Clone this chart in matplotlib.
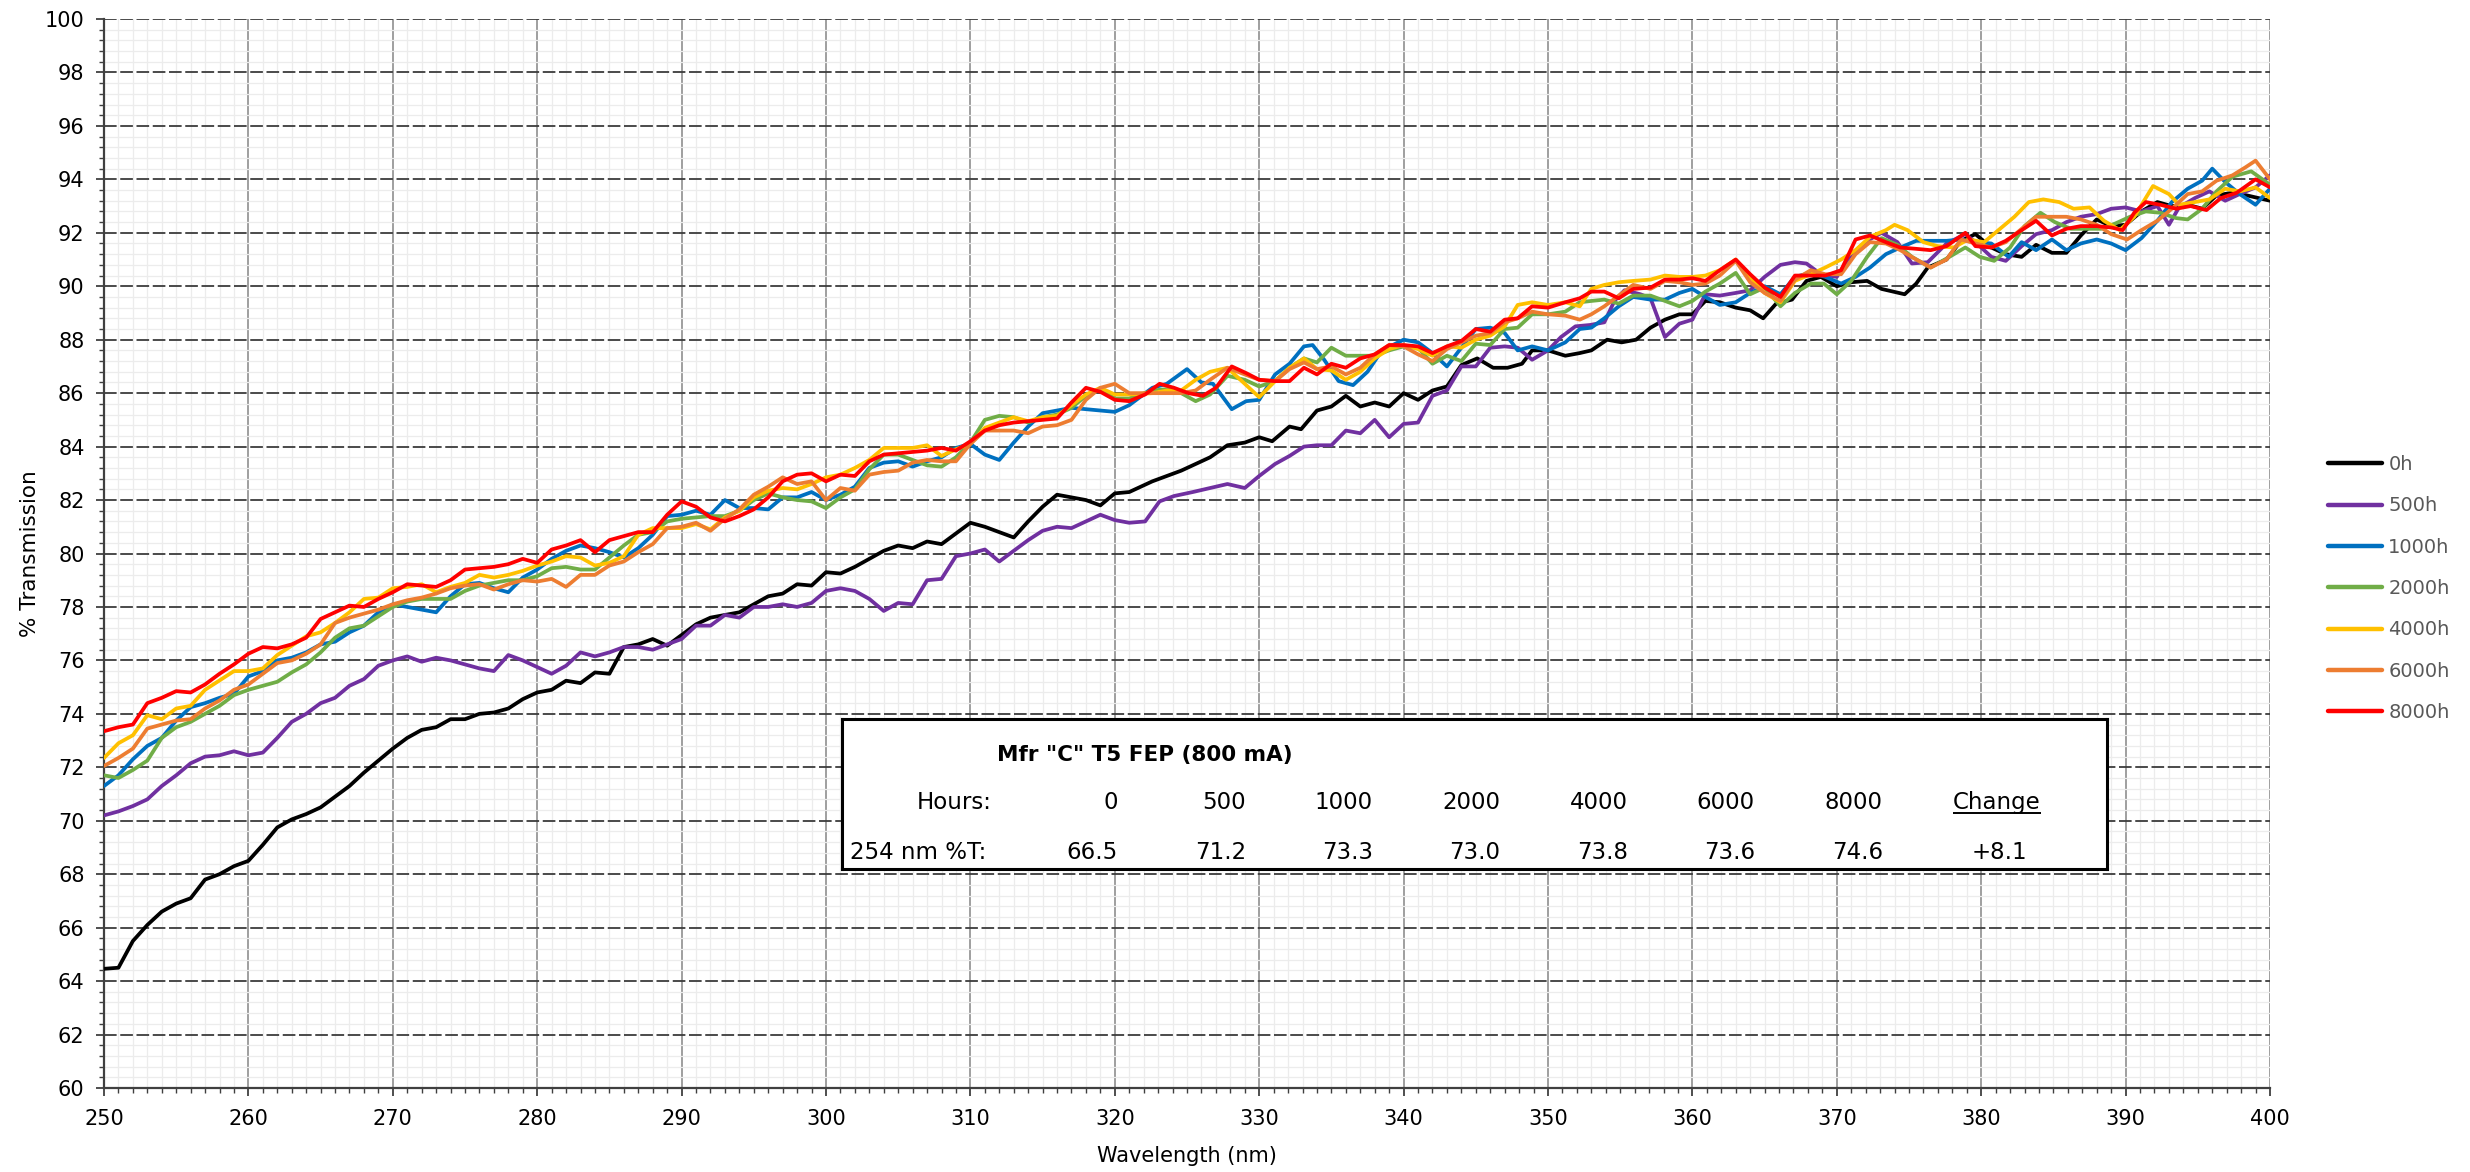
import matplotlib
matplotlib.use("Agg")
import matplotlib.pyplot as plt
from matplotlib.ticker import MultipleLocator

# ---------------- data ----------------
WL_INT = list(range(250, 322))  # 250 .. 321 nm, 1 nm steps

# 0h
T0_AB = [64.46, 64.5, 65.5, 66.1, 66.6, 66.9, 67.1, 67.8, 68.0, 68.3, 68.5, 69.1, 69.75, 70.05, 70.25, 70.5,
         70.9, 71.3, 71.8, 72.25, 72.7, 73.1, 73.4, 73.5, 73.8, 73.8, 74.0, 74.05, 74.2, 74.55, 74.8, 74.9,
         75.24, 75.15, 75.55, 75.5, 76.5, 76.6, 76.8,
         76.55, 76.95, 77.35, 77.6, 77.7, 77.8, 78.1, 78.4, 78.5, 78.85, 78.8, 79.3, 79.25, 79.5, 79.8, 80.1,
         80.3, 80.2, 80.45, 80.35, 80.75, 81.15, 81.0, 80.8, 80.6, 81.2, 81.75, 82.2, 82.1, 82.0, 81.8, 82.25, 82.3]
WL0_CD = [322.6, 323.6, 324.6, 325.6, 326.6, 327.8, 329.0, 330.0, 330.9, 332.1, 332.9, 334.0, 335.0, 336.0,
          337.0, 338.0, 339.0, 340.0, 341.0, 342.0, 343.0, 344.0, 345.1, 346.2, 347.2, 348.2, 348.9, 350.0,
          351.2, 352.2, 353.0, 354.1, 355.1, 356.1, 357.1, 358.1, 359.1,
          360.0, 360.9, 361.9, 363.0, 364.0, 364.9, 365.8, 366.9, 367.9, 368.9, 370.0, 371.0, 372.1, 373.1,
          374.7, 375.5, 376.3, 377.6, 378.6, 379.6, 380.7, 381.7, 382.8, 383.8, 384.9, 385.9, 386.9, 388.0,
          389.0, 390.0, 391.1, 392.2, 393.2, 394.3, 395.3, 396.3, 397.4, 398.4, 400.0]
T0_CD = [82.7, 82.9, 83.1, 83.35, 83.6, 84.05, 84.15, 84.35, 84.2, 84.75, 84.65, 85.35, 85.5, 85.9, 85.5,
         85.65, 85.5, 86.0, 85.75, 86.1, 86.25, 87.05, 87.3, 86.95, 86.95, 87.1, 87.6, 87.6, 87.4, 87.5, 87.6,
         88.0, 87.9, 88.0, 88.45, 88.75, 88.95,
         88.95, 89.45, 89.4, 89.2, 89.1, 88.8, 89.35, 89.5, 90.2, 90.35, 90.0, 90.15, 90.2, 89.9, 89.7, 90.1,
         90.7, 91.0, 91.7, 91.95, 91.45, 91.2, 91.1, 91.55, 91.25, 91.25, 91.9, 92.5, 92.25, 92.3, 92.8,
         93.15, 93.0, 93.05, 92.9, 93.4, 93.5, 93.4, 93.2]

# 500h
T500_AB = [70.2, 70.35, 70.55, 70.8, 71.3, 71.7, 72.15, 72.4, 72.45, 72.6, 72.45, 72.55, 73.1, 73.7, 74.0,
           74.4, 74.6, 75.05, 75.3, 75.8, 76.0, 76.15, 75.95, 76.1, 76.0, 75.85, 75.7, 75.6, 76.2, 76.0,
           75.75, 75.5, 75.8, 76.3, 76.15, 76.3, 76.5, 76.5, 76.4,
           76.6, 76.8, 77.3, 77.3, 77.7, 77.6, 78.0, 78.0, 78.1, 78.0, 78.15, 78.6, 78.7, 78.6, 78.3, 77.85,
           78.15, 78.1, 79.0, 79.05, 79.9, 80.0, 80.15, 79.7, 80.1, 80.5, 80.85, 81.0, 80.95, 81.2, 81.45,
           81.25, 81.15]
WL500_CD = [322.1, 323.1, 324.1, 325.4, 326.6, 327.8, 329.0, 330.0, 331.1, 332.1, 333.1, 334.0, 335.0,
            336.0, 337.0, 338.0, 339.0, 340.0, 341.0, 342.0, 343.0, 344.0, 345.0, 346.0, 347.0, 347.9,
            348.9, 350.0, 350.9, 351.9, 352.9, 353.9, 354.6, 355.3, 356.4, 357.1, 358.1, 359.1,
            360.0, 360.9, 361.9, 363.0, 364.0, 365.0, 366.1, 367.1, 367.9, 368.9, 370.0, 371.0, 372.1,
            373.1, 374.2, 375.2, 376.3, 377.6, 378.9, 379.6, 380.7, 381.7, 382.8, 383.8, 384.9, 385.9,
            386.9, 388.0, 389.0, 390.0, 391.1, 392.2, 393.0, 393.7, 394.8, 395.8, 396.9, 397.9, 399.0, 400.0]
T500_CD = [81.2, 81.95, 82.15, 82.3, 82.45, 82.6, 82.45, 82.9, 83.35, 83.65, 84.0, 84.05, 84.05, 84.6,
           84.5, 85.0, 84.35, 84.85, 84.9, 85.9, 86.1, 87.0, 87.0, 87.7, 87.75, 87.7, 87.25, 87.6, 88.1,
           88.5, 88.55, 88.65, 89.45, 89.85, 89.7, 89.55, 88.1, 88.6,
           88.75, 89.7, 89.65, 89.75, 89.85, 90.35, 90.8, 90.9, 90.85, 90.45, 90.35, 91.2, 91.7, 92.0,
           91.65, 90.85, 90.9, 91.6, 91.95, 91.65, 91.1, 90.95, 91.5, 91.95, 92.1, 92.4, 92.6, 92.7, 92.9,
           92.95, 92.8, 93.0, 92.3, 92.95, 93.3, 93.55, 93.2, 93.45, 93.7, 94.15]

# 1000h
T1000_AB = [71.3, 71.7, 72.3, 72.8, 73.1, 73.75, 74.25, 74.4, 74.6, 74.75, 75.4, 75.6, 76.0, 76.1, 76.3,
            76.6, 76.7, 77.05, 77.3, 77.8, 78.1, 78.0, 77.9, 77.8, 78.4, 78.85, 78.9, 78.7, 78.55, 79.1,
            79.4, 79.8, 80.1, 80.3, 80.2, 80.05, 79.85, 80.2, 80.7,
            81.4, 81.45, 81.6, 81.45, 82.0, 81.7, 81.7, 81.65, 82.1, 82.1, 82.3, 82.0, 82.2, 82.5, 83.2,
            83.4, 83.45, 83.25, 83.45, 83.6, 83.95, 84.1, 83.7, 83.5, 84.15, 84.75, 85.25, 85.35, 85.45,
            85.4, 85.35, 85.3, 85.55]
WL1000_CD = [322.6, 323.6, 325.0, 326.0, 326.8, 328.1, 329.1, 330.0, 331.1, 332.1, 333.1, 333.7, 334.5,
             335.5, 336.5, 337.5, 338.5, 340.0, 341.0, 342.0, 343.0, 344.0, 345.0, 346.0, 347.0, 347.9,
             348.9, 350.0, 351.2, 352.2, 353.0, 353.9, 354.9, 355.9, 357.1, 358.1, 359.1,
             360.0, 360.9, 361.9, 363.0, 364.0, 365.0, 366.1, 367.1, 368.2, 369.2, 370.3, 371.3, 372.3,
             373.4, 374.4, 375.5, 376.5, 377.6, 378.6, 379.6, 380.7, 381.9, 382.8, 383.8, 384.9, 385.9,
             386.9, 388.0, 389.0, 390.0, 391.1, 392.2, 393.2, 394.3, 395.3, 396.0, 396.9, 397.9, 399.0, 400.0]
T1000_CD = [86.2, 86.35, 86.9, 86.4, 86.35, 85.4, 85.7, 85.75, 86.7, 87.1, 87.75, 87.8, 87.25, 86.45,
            86.3, 86.8, 87.6, 88.0, 87.9, 87.5, 87.0, 87.7, 88.4, 88.45, 88.25, 87.6, 87.75, 87.6, 87.9,
            88.4, 88.45, 88.8, 89.25, 89.6, 89.5, 89.5, 89.75,
            89.9, 89.6, 89.3, 89.4, 89.75, 90.0, 89.7, 90.35, 90.5, 90.35, 90.1, 90.35, 90.7, 91.2, 91.45,
            91.7, 91.7, 91.7, 91.75, 91.65, 91.6, 91.1, 91.65, 91.35, 91.75, 91.35, 91.6, 91.75, 91.6,
            91.35, 91.8, 92.45, 93.15, 93.65, 93.95, 94.4, 93.9, 93.45, 93.05, 93.65]

# 2000h
T2000_AB = [71.7, 71.6, 71.9, 72.25, 73.1, 73.5, 73.7, 74.0, 74.3, 74.7, 74.9, 75.05, 75.2, 75.55, 75.85,
            76.3, 76.85, 77.2, 77.3, 77.65, 78.0, 78.2, 78.3, 78.3, 78.3, 78.6, 78.8, 78.9, 79.0, 79.0,
            79.15, 79.45, 79.5, 79.4, 79.4, 79.85, 80.3, 80.7, 80.8,
            81.2, 81.3, 81.35, 81.4, 81.4, 81.6, 82.0, 82.25, 82.1, 82.0, 81.95, 81.7, 82.1, 82.4, 83.15,
            83.7, 83.7, 83.5, 83.3, 83.25, 83.6, 84.15, 85.0, 85.15, 85.1, 84.9, 85.1, 85.2, 85.45, 85.9,
            86.15, 85.8, 85.8]
WL2000_CD = [322.6, 323.6, 324.6, 325.6, 326.6, 327.8, 329.0, 330.0, 331.1, 332.1, 333.1, 334.0, 335.0,
             336.0, 337.0, 338.0, 339.0, 340.0, 341.0, 342.0, 343.0, 344.0, 345.0, 346.0, 347.0, 347.9,
             348.9, 350.0, 351.2, 352.2, 353.0, 353.9, 354.9, 355.9, 357.1, 358.1, 359.1,
             360.0, 360.9, 361.9, 363.0, 364.0, 365.0, 366.1, 367.1, 368.2, 369.1, 370.0, 371.0, 372.1,
             373.1, 374.2, 375.2, 376.5, 377.8, 378.9, 379.9, 380.9, 382.0, 383.0, 384.1, 385.1, 386.2,
             387.2, 388.3, 389.3, 390.3, 391.4, 392.4, 393.5, 394.3, 395.3, 396.3, 397.4, 398.7, 400.0]
T2000_CD = [86.1, 86.15, 86.0, 85.7, 85.95, 86.65, 86.5, 86.25, 86.45, 86.95, 87.3, 87.15, 87.7, 87.4,
            87.4, 87.4, 87.6, 87.75, 87.7, 87.1, 87.4, 87.2, 87.85, 87.8, 88.4, 88.45, 88.95, 88.95, 89.05,
            89.4, 89.45, 89.5, 89.35, 89.65, 89.65, 89.45, 89.25,
            89.45, 89.8, 90.1, 90.5, 89.7, 89.95, 89.25, 89.75, 90.1, 90.1, 89.7, 90.2, 91.1, 91.8, 91.55,
            91.1, 90.7, 91.1, 91.45, 91.1, 90.95, 91.45, 92.25, 92.75, 92.4, 92.15, 92.15, 92.15, 92.35,
            92.6, 92.8, 92.75, 92.55, 92.5, 92.9, 93.55, 94.1, 94.3, 93.8]

# 4000h
T4000_AB = [72.35, 72.9, 73.2, 73.95, 73.8, 74.2, 74.3, 74.9, 75.25, 75.6, 75.6, 75.7, 76.2, 76.55, 76.9,
            77.05, 77.4, 77.8, 78.3, 78.35, 78.7, 78.75, 78.85, 78.55, 78.75, 78.9, 79.2, 79.1, 79.2, 79.35,
            79.55, 79.7, 79.9, 79.85, 79.55, 79.65, 79.9, 80.7, 80.95,
            80.95, 80.95, 81.1, 80.9, 81.35, 81.6, 82.1, 82.35, 82.45, 82.4, 82.6, 82.85, 82.95, 83.2, 83.5,
            83.95, 83.95, 83.95, 84.05, 83.65, 83.9, 84.1, 84.7, 84.9, 85.1, 84.95, 85.1, 85.15, 85.55,
            85.95, 86.2, 85.95, 85.95]
WL4000_CD = [322.6, 323.6, 324.6, 325.6, 326.6, 327.8, 329.0, 330.0, 331.1, 332.1, 333.1, 334.0, 335.0,
             336.0, 337.0, 338.0, 339.0, 340.0, 341.0, 342.0, 343.0, 344.0, 345.0, 346.0, 347.0, 347.9,
             348.9, 350.0, 351.2, 352.2, 353.0, 353.9, 354.9, 355.9, 357.1, 358.1, 359.1,
             360.0, 360.9, 361.9, 363.0, 364.0, 365.0, 366.1, 367.1, 368.2, 369.2, 370.3, 371.3, 372.3,
             373.4, 374.0, 374.9, 376.0, 377.0, 378.1, 379.1, 380.2, 381.2, 382.3, 383.3, 384.3, 385.4,
             386.4, 387.5, 388.5, 389.6, 390.6, 391.9, 393.0, 393.7, 394.8, 395.8, 396.9, 397.9, 399.0, 400.0]
T4000_CD = [86.0, 86.1, 86.1, 86.5, 86.8, 86.95, 86.35, 85.85, 86.45, 86.95, 87.3, 86.9, 86.85, 86.5,
            86.8, 87.3, 87.65, 87.8, 87.65, 87.4, 87.75, 87.7, 88.0, 88.15, 88.5, 89.3, 89.4, 89.3, 89.4,
            89.25, 89.9, 90.05, 90.15, 90.2, 90.25, 90.4, 90.35,
            90.35, 90.4, 90.6, 91.0, 90.35, 89.75, 89.4, 90.2, 90.45, 90.7, 91.0, 91.35, 91.85, 92.1, 92.3,
            92.1, 91.65, 91.5, 91.45, 91.75, 91.65, 92.1, 92.6, 93.15, 93.25, 93.15, 92.9, 92.95, 92.45,
            92.1, 92.6, 93.75, 93.45, 93.05, 93.15, 93.25, 93.65, 93.55, 93.7, 93.3]

# 6000h
T6000_AB = [72.05, 72.35, 72.7, 73.45, 73.6, 73.75, 73.8, 74.2, 74.5, 74.9, 75.1, 75.5, 75.9, 76.0, 76.25,
            76.6, 77.4, 77.6, 77.75, 77.9, 78.1, 78.25, 78.35, 78.5, 78.7, 78.8, 78.85, 78.65, 78.85, 79.0,
            78.95, 79.05, 78.75, 79.2, 79.2, 79.55, 79.7, 80.05, 80.35,
            80.95, 81.0, 81.15, 80.85, 81.3, 81.65, 82.2, 82.5, 82.85, 82.6, 82.7, 82.0, 82.45, 82.35, 82.95,
            83.05, 83.1, 83.4, 83.5, 83.45, 83.45, 84.1, 84.6, 84.6, 84.6, 84.5, 84.75, 84.8, 85.0, 85.75,
            86.2, 86.35, 86.0]
WL6000_CD = [322.6, 323.6, 324.6, 325.6, 326.6, 327.8, 329.0, 330.0, 331.1, 332.1, 333.1, 334.0, 335.0,
             336.0, 337.0, 338.0, 339.0, 340.0, 341.0, 342.0, 343.0, 344.0, 345.0, 346.0, 347.0, 347.9,
             348.9, 350.0, 351.2, 352.2, 353.0, 353.9, 354.9, 355.9, 357.1, 358.1, 359.1,
             360.0, 360.9, 361.9, 363.0, 364.0, 365.0, 366.1, 367.1, 368.2, 369.2, 370.3, 371.3, 372.3,
             373.4, 374.4, 375.5, 376.5, 377.6, 378.6, 379.6, 380.7, 381.7, 382.8, 383.8, 384.9, 385.9,
             386.9, 388.0, 389.0, 390.1, 391.1, 392.2, 393.2, 394.3, 395.3, 396.3, 397.4, 398.3, 399.0, 400.0]
T6000_CD = [86.0, 86.0, 86.0, 86.1, 86.5, 86.95, 86.7, 86.5, 86.45, 86.9, 87.15, 86.9, 87.0, 86.7, 86.95,
            87.45, 87.8, 87.75, 87.45, 87.2, 87.65, 87.9, 88.15, 88.25, 88.65, 88.8, 89.05, 88.95, 88.9,
            88.75, 88.95, 89.25, 89.65, 90.05, 89.9, 90.2, 90.15,
            90.05, 90.1, 90.4, 90.95, 90.15, 89.75, 89.45, 90.25, 90.6, 90.45, 90.45, 91.2, 91.65, 91.6,
            91.35, 91.0, 90.7, 91.0, 91.75, 91.6, 91.45, 91.65, 92.15, 92.6, 92.6, 92.6, 92.5, 92.3, 91.95,
            91.75, 92.1, 92.45, 92.9, 93.45, 93.55, 93.95, 94.15, 94.45, 94.7, 94.0]

# 8000h
T8000_AB = [73.35, 73.5, 73.6, 74.4, 74.6, 74.85, 74.8, 75.1, 75.5, 75.85, 76.25, 76.5, 76.45, 76.6, 76.85,
            77.55, 77.8, 78.05, 78.0, 78.3, 78.55, 78.85, 78.8, 78.75, 79.0, 79.4, 79.45, 79.5, 79.6, 79.8,
            79.65, 80.15, 80.3, 80.5, 80.05, 80.5, 80.65, 80.8, 80.8,
            81.45, 81.95, 81.75, 81.35, 81.2, 81.4, 81.65, 82.1, 82.7, 82.95, 83.0, 82.7, 82.95, 82.9, 83.45,
            83.7, 83.75, 83.8, 83.85, 83.95, 83.85, 84.2, 84.6, 84.8, 84.9, 84.95, 85.0, 85.05, 85.65, 86.2,
            86.05, 85.75, 85.7]
WL8000_CD = [322.1, 323.1, 324.1, 325.1, 326.1, 327.0, 328.1, 329.1, 330.0, 331.1, 332.1, 333.1, 334.0,
             335.0, 336.0, 337.0, 338.0, 339.0, 340.0, 341.0, 342.0, 343.0, 344.0, 345.0, 346.0, 347.0,
             347.9, 348.9, 350.0, 351.2, 352.2, 353.0, 353.9, 354.9, 355.9, 357.1, 358.1, 359.1,
             360.0, 360.9, 361.9, 363.0, 364.0, 365.0, 366.1, 367.1, 368.2, 369.2, 370.3, 371.3, 372.3,
             373.4, 374.4, 375.5, 376.5, 377.6, 378.9, 379.6, 380.7, 381.7, 382.8, 383.8, 384.9, 385.9,
             386.9, 388.0, 389.0, 389.8, 390.6, 391.4, 392.4, 393.5, 394.5, 395.6, 396.6, 397.7, 399.0, 400.0]
T8000_CD = [85.95, 86.35, 86.2, 86.0, 85.9, 86.2, 87.0, 86.75, 86.5, 86.45, 86.45, 86.95, 86.7, 87.1,
            86.95, 87.3, 87.45, 87.8, 87.8, 87.75, 87.5, 87.75, 87.95, 88.4, 88.3, 88.75, 88.8, 89.25, 89.2,
            89.4, 89.55, 89.8, 89.8, 89.55, 89.9, 89.95, 90.25, 90.25,
            90.3, 90.2, 90.6, 91.0, 90.45, 89.95, 89.6, 90.4, 90.4, 90.4, 90.6, 91.75, 91.9, 91.65, 91.45,
            91.4, 91.35, 91.5, 92.0, 91.5, 91.45, 91.7, 92.1, 92.45, 91.9, 92.15, 92.25, 92.25, 92.2, 92.1,
            92.75, 93.15, 93.05, 92.9, 93.0, 92.85, 93.3, 93.5, 94.0, 93.7]

LABELS = ["0h", "500h", "1000h", "2000h", "4000h", "6000h", "8000h"]
COLORS = ["#000000", "#7030A0", "#0070C0", "#70AD47", "#FFC000", "#ED7D31", "#FF0000"]

# table
TABLE_TITLE = 'Mfr "C" T5 FEP (800 mA)'
TABLE_HOURS = ["0", "500", "1000", "2000", "4000", "6000", "8000"]
TABLE_T254 = [66.5, 71.2, 73.3, 73.0, 73.8, 73.6, 74.6]
TABLE_CHANGE = "+8.1"

SERIES = [
    (WL_INT + WL0_CD, T0_AB + T0_CD),
    (WL_INT + WL500_CD, T500_AB + T500_CD),
    (WL_INT + WL1000_CD, T1000_AB + T1000_CD),
    (WL_INT + WL2000_CD, T2000_AB + T2000_CD),
    (WL_INT + WL4000_CD, T4000_AB + T4000_CD),
    (WL_INT + WL6000_CD, T6000_AB + T6000_CD),
    (WL_INT + WL8000_CD, T8000_AB + T8000_CD),
]

# ---------------- figure ----------------
W, H = 2470, 1172
plt.rcParams["font.family"] = ["DejaVu Sans"]
fig = plt.figure(figsize=(W / 100, H / 100), dpi=100)
fig.patch.set_facecolor("white")
ax = fig.add_axes([104 / W, 1 - 1088 / H, 2166 / W, 1069 / H])

handles = []
for (wl, t), lab, col in zip(SERIES, LABELS, COLORS):
    ln, = ax.plot(wl, t, color=col, lw=2.7, label=lab, solid_joinstyle="round",
                  solid_capstyle="round", zorder=3)
    handles.append(ln)

ax.set_xlim(250, 400)
ax.set_ylim(60, 100)
ax.xaxis.set_major_locator(MultipleLocator(10))
ax.xaxis.set_minor_locator(MultipleLocator(1))
ax.yaxis.set_major_locator(MultipleLocator(2))
ax.yaxis.set_minor_locator(MultipleLocator(0.4))

ax.grid(which="minor", color="#ececec", lw=0.9)
ax.xaxis.grid(True, which="major", color="#858585", lw=1.1, ls="-")
ax.yaxis.grid(True, which="major", color="#3c3c3c", lw=1.3, ls=(0, (7, 2)))
ax.set_axisbelow(True)

for s in ("top", "right"):
    ax.spines[s].set_visible(False)
for s in ("left", "bottom"):
    ax.spines[s].set_color("#404040")
    ax.spines[s].set_linewidth(1.6)

ax.tick_params(which="major", direction="out", length=6, width=1.3, color="#404040",
               labelsize=15, labelcolor="#000000")
ax.tick_params(which="minor", direction="out", length=3.5, width=1.0, color="#404040")
ax.tick_params(axis="y", which="major", pad=8)
ax.tick_params(axis="x", which="major", pad=9)

ax.set_xlabel("Wavelength (nm)", fontsize=15)
ax.set_ylabel("% Transmission", fontsize=15.5)
ax.xaxis.set_label_coords(0.5, -(1146 - 1088) / 1069)
ax.yaxis.set_label_coords(-(104 - 40) / 2166, 0.5)

leg = ax.legend(handles=handles, loc="upper left",
                bbox_to_anchor=(2328 / W, 1 - 455 / H), bbox_transform=fig.transFigure,
                frameon=False, fontsize=14, handlelength=2.8, handletextpad=0.3,
                labelspacing=1.15, borderaxespad=0, borderpad=0)
for txt in leg.get_texts():
    txt.set_color("#595959")
for lh in leg.get_lines():
    lh.set_linewidth(3.2)

# ---------------- table box ----------------
tx0, tx1, ty0, ty1 = 842, 2107, 719, 869
tax = fig.add_axes([tx0 / W, 1 - ty1 / H, (tx1 - tx0) / W, (ty1 - ty0) / H])
tax.set_xlim(tx0, tx1)
tax.set_ylim(ty1, ty0)
tax.set_xticks([])
tax.set_yticks([])
tax.set_facecolor("white")
for s in tax.spines.values():
    s.set_color("black")
    s.set_linewidth(2.2)

fs = 16.5
tax.text(1145, 755, TABLE_TITLE, ha="center", va="center", fontsize=15.5, fontweight="bold")
col_right = [1118, 1246, 1373, 1500, 1628, 1755, 1883]
tax.text(992, 803, "Hours:", ha="right", va="center", fontsize=fs)
tax.text(986, 853, "254 nm %T:", ha="right", va="center", fontsize=fs)
for xr, hlab, val in zip(col_right, TABLE_HOURS, TABLE_T254):
    tax.text(xr, 803, hlab, ha="right", va="center", fontsize=fs)
    tax.text(xr, 853, f"{val:.1f}", ha="right", va="center", fontsize=fs)
chg = tax.text(1997, 803, "Change", ha="center", va="center", fontsize=fs)
tax.text(1999, 853, TABLE_CHANGE, ha="center", va="center", fontsize=fs)

# underline "Change"
fig.canvas.draw()
bb = chg.get_window_extent().transformed(tax.transData.inverted())
u_x0, u_x1 = min(bb.x0, bb.x1), max(bb.x0, bb.x1)
u_y = max(bb.y0, bb.y1) - 1
tax.plot([u_x0, u_x1], [u_y, u_y], color="black", lw=1.4, solid_capstyle="butt")
tax.set_xlim(tx0, tx1)
tax.set_ylim(ty1, ty0)

fig.savefig("out.png", dpi=100, facecolor="white")
